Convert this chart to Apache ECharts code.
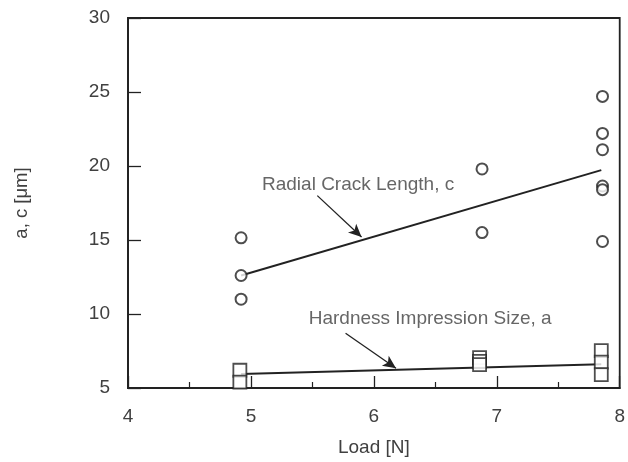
<!DOCTYPE html>
<html>
<head>
<meta charset="utf-8">
<script src="https://cdn.jsdelivr.net/npm/echarts@6/dist/echarts.min.js"></script>
<style>html,body{margin:0;padding:0;background:#fff}#c{width:628px;height:462px}</style>
</head>
<body>
<div id="c"></div>
<script>
// ---- data ----
const xTicks = [4, 5, 6, 7, 8];
const yTicks = [5, 10, 15, 20, 25, 30];
const crackLoad = [4.92, 4.92, 4.92, 6.88, 6.88, 7.86, 7.86, 7.86, 7.86, 7.86, 7.86];
const crackLen  = [15.15, 12.6, 11.0, 19.8, 15.5, 24.7, 22.2, 21.1, 18.65, 18.4, 14.9];
const sizeLoad  = [4.91, 4.91, 6.86, 6.86, 6.86, 7.85, 7.85, 7.85];
const sizeA     = [6.2, 5.4, 7.05, 6.8, 6.58, 7.52, 6.75, 5.9];
const crackFitX = [4.92, 7.85];
const crackFitY = [12.6, 19.72];
const sizeFitX  = [4.92, 7.85];
const sizeFitY  = [5.95, 6.6];
const labelTexts = ['Radial Crack Length, c', 'Hardness Impression Size, a'];
const labelPos   = [[5.09, 18.75], [5.47, 9.7]];
const arrowFrom  = [[5.54, 18.0], [5.77, 8.7]];
const arrowTo    = [[5.90, 15.2], [6.18, 6.34]];

const zip = (a, b) => a.map((v, i) => [v, b[i]]);
const FONT = '"Liberation Sans", Arial, Helvetica, sans-serif';
const TXT = '#404040';
const INK = '#222';

const chart = echarts.init(document.getElementById('c'), null, {renderer: 'canvas'});
chart.setOption({
  animation: false,
  backgroundColor: '#fff',
  textStyle: {fontFamily: FONT},
  grid: {left: 128, right: 1, top: 18, bottom: 72, show: true, borderColor: INK, borderWidth: 1.8, backgroundColor: 'transparent'},
  xAxis: {
    type: 'value', min: xTicks[0], max: xTicks[xTicks.length - 1], interval: 1,
    name: 'Load [N]', nameLocation: 'middle', nameGap: 50,
    nameTextStyle: {fontSize: 19, color: TXT, fontFamily: FONT},
    axisLine: {show: true, onZero: false, lineStyle: {color: INK, width: 1.8}},
    axisTick: {show: true, inside: true, length: 12, lineStyle: {color: INK, width: 1.3}},
    minorTick: {show: true, splitNumber: 2, length: 6, lineStyle: {color: INK, width: 1.2}},
    axisLabel: {fontSize: 19, color: TXT, margin: 19, fontFamily: FONT},
    splitLine: {show: false}
  },
  yAxis: {
    type: 'value', min: yTicks[0], max: yTicks[yTicks.length - 1], interval: 5,
    name: 'a, c [\u03bcm]', nameLocation: 'middle', nameGap: 97, nameRotate: 90,
    nameTextStyle: {fontSize: 18.5, color: TXT, fontFamily: FONT},
    axisLine: {show: true, onZero: false, lineStyle: {color: INK, width: 1.8}},
    axisTick: {show: true, inside: true, length: 13, lineStyle: {color: INK, width: 1.3}},
    axisLabel: {fontSize: 19, color: TXT, margin: 18, fontFamily: FONT},
    splitLine: {show: false}
  },
  series: [
    {type: 'line', data: zip(crackFitX, crackFitY), showSymbol: false, symbol: 'none',
     lineStyle: {color: INK, width: 2}, z: 2, silent: true},
    {type: 'line', data: zip(sizeFitX, sizeFitY), showSymbol: false, symbol: 'none',
     lineStyle: {color: INK, width: 2}, z: 2, silent: true},
    {type: 'scatter', data: zip(crackLoad, crackLen), symbol: 'circle', symbolSize: 11,
     itemStyle: {color: '#fff', borderColor: INK, borderWidth: 2}, z: 4, silent: true},
    {type: 'scatter', data: zip(sizeLoad, sizeA), symbol: 'rect', symbolSize: 13,
     itemStyle: {color: '#fff', borderColor: INK, borderWidth: 1.8}, z: 4, silent: true},
    {type: 'scatter', silent: true, z: 5,
     data: labelPos.map((p, i) => [p[0], p[1], labelTexts[i]]),
     symbolSize: 0, itemStyle: {color: 'transparent'},
     label: {show: true, position: 'right', distance: 0, fontSize: 19, color: TXT, fontFamily: FONT,
             formatter: p => p.data[2]},
     markLine: {silent: true, symbol: ['none', 'arrow'], symbolSize: [9, 13],
       lineStyle: {color: INK, width: 1.3, type: 'solid'}, label: {show: false},
       data: arrowFrom.map((f, i) => [{coord: f}, {coord: arrowTo[i]}])}
    }
  ]
});
</script>
</body>
</html>
